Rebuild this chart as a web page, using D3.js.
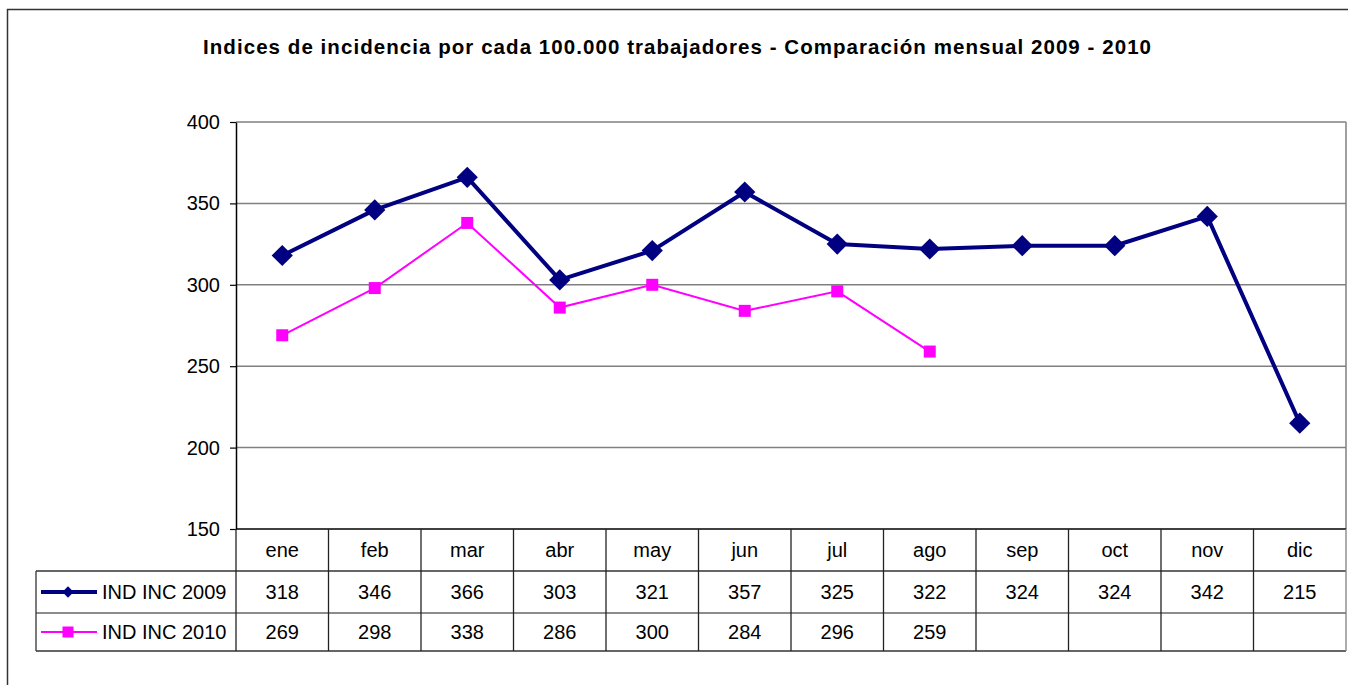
<!DOCTYPE html>
<html>
<head>
<meta charset="utf-8">
<script src="https://cdn.jsdelivr.net/npm/d3@7"></script>
<style>
  body { margin: 0; background: #fff; }
  svg { display: block; font-family: "Liberation Sans", Arial, sans-serif; }
</style>
</head>
<body>
<div id="chart"></div>
<script>
const months = ["ene", "feb", "mar", "abr", "may", "jun", "jul", "ago", "sep", "oct", "nov", "dic"];
const ind2009 = [318, 346, 366, 303, 321, 357, 325, 322, 324, 324, 342, 215];
const ind2010 = [269, 298, 338, 286, 300, 284, 296, 259];
const yTicks = [150, 200, 250, 300, 350, 400];
const seriesNames = ["IND INC 2009", "IND INC 2010"];
const titleText = "Indices de incidencia por cada 100.000 trabajadores - Comparación mensual 2009 - 2010";

const width = 1348, height = 685;
const plot = { left: 236, right: 1346, top: 122, bottom: 529 };
const rowH = [529, 571, 613, 651];   // table row boundaries
const legendLeft = 36;

const svg = d3.select("#chart").append("svg")
    .attr("width", width)
    .attr("height", height);

// outer frame
svg.append("rect")
    .attr("x", 7.5).attr("y", 9.5)
    .attr("width", 1350).attr("height", 700)
    .attr("fill", "#fff")
    .attr("stroke", "#333")
    .attr("stroke-width", 1.5);

// title
svg.append("text")
    .attr("x", 677)
    .attr("y", 54)
    .attr("text-anchor", "middle")
    .style("font-size", "20.5px")
    .style("font-weight", "bold")
    .attr("textLength", 948)
    .attr("lengthAdjust", "spacing")
    .text(titleText);

// scales
const x = d3.scaleBand().domain(months).range([plot.left, plot.right]).padding(0);
const y = d3.scaleLinear().domain([150, 400]).range([plot.bottom, plot.top]);
const cx = m => x(m) + x.bandwidth() / 2;

// gridlines
svg.append("g")
    .selectAll("line")
    .data(yTicks.filter(t => t !== 150))
    .join("line")
    .attr("x1", plot.left).attr("x2", plot.right)
    .attr("y1", d => y(d)).attr("y2", d => y(d))
    .attr("stroke", "#808080")
    .attr("stroke-width", 1.5);

// right edge of plot area
svg.append("line")
    .attr("x1", plot.right).attr("x2", plot.right)
    .attr("y1", plot.top).attr("y2", plot.bottom)
    .attr("stroke", "#808080")
    .attr("stroke-width", 1.5);

// y axis
const yAxis = svg.append("g")
    .attr("transform", `translate(${plot.left},0)`)
    .call(d3.axisLeft(y).tickValues(yTicks).tickSize(6).tickPadding(10).tickSizeOuter(0));
yAxis.select(".domain").attr("stroke", "#000").attr("stroke-width", 1.5);
yAxis.selectAll(".tick line").attr("stroke", "#000").attr("stroke-width", 1.2);
yAxis.selectAll(".tick text")
    .style("font-size", "20px")
    .style("font-family", "'Liberation Sans', Arial, sans-serif")
    .attr("fill", "#000");

// ---- data table ----
const table = svg.append("g");
// x-axis line / top of category row
table.append("line")
    .attr("x1", plot.left).attr("x2", plot.right)
    .attr("y1", rowH[0]).attr("y2", rowH[0])
    .attr("stroke", "#000").attr("stroke-width", 1.5);
// horizontal row lines
[rowH[1], rowH[2], rowH[3]].forEach((yy, i) => {
    table.append("line")
        .attr("x1", legendLeft).attr("x2", plot.right)
        .attr("y1", yy).attr("y2", yy)
        .attr("stroke", i === 1 ? "#666" : "#333")
        .attr("stroke-width", 1.3);
});
// vertical column lines
const colEdges = months.map(m => x(m)).concat([plot.right]);
table.selectAll(".col")
    .data(colEdges)
    .join("line")
    .attr("x1", d => d).attr("x2", d => d)
    .attr("y1", rowH[0]).attr("y2", rowH[3])
    .attr("stroke", (d, i) => i === colEdges.length - 1 ? "#808080" : "#222")
    .attr("stroke-width", 1.3);
// legend column left edge
table.append("line")
    .attr("x1", legendLeft).attr("x2", legendLeft)
    .attr("y1", rowH[1]).attr("y2", rowH[3])
    .attr("stroke", "#333").attr("stroke-width", 1.3);

// category labels
table.selectAll(".cat")
    .data(months)
    .join("text")
    .attr("x", d => cx(d))
    .attr("y", (rowH[0] + rowH[1]) / 2 + 7)
    .attr("text-anchor", "middle")
    .style("font-size", "20px")
    .text(d => d);

// value rows
[ind2009, ind2010].forEach((vals, r) => {
    table.selectAll(".v" + r)
        .data(vals)
        .join("text")
        .attr("x", (d, i) => cx(months[i]))
        .attr("y", (rowH[r + 1] + rowH[r + 2]) / 2 + 7)
        .attr("text-anchor", "middle")
        .style("font-size", "20px")
        .text(d => d);
});

// ---- series ----
const line = d3.line().x((d, i) => cx(months[i])).y(d => y(d));
const diamond = d3.symbol(d3.symbolSquare, 15 * 15);
const square = d3.symbol(d3.symbolSquare, 12 * 12);

svg.append("path")
    .datum(ind2010)
    .attr("d", line)
    .attr("fill", "none")
    .attr("stroke", "#FF00FF")
    .attr("stroke-width", 2);

svg.append("path")
    .datum(ind2009)
    .attr("d", line)
    .attr("fill", "none")
    .attr("stroke", "#000080")
    .attr("stroke-width", 4)
    .attr("stroke-linejoin", "round");

svg.append("g")
    .selectAll("path")
    .data(ind2010)
    .join("path")
    .attr("d", square)
    .attr("transform", (d, i) => `translate(${cx(months[i])},${y(d)})`)
    .attr("fill", "#FF00FF");

svg.append("g")
    .selectAll("path")
    .data(ind2009)
    .join("path")
    .attr("d", diamond)
    .attr("transform", (d, i) => `translate(${cx(months[i])},${y(d)}) rotate(45)`)
    .attr("fill", "#000080");

// ---- legend keys in table ----
const legendRows = [
    { name: seriesNames[0], color: "#000080", w: 4, sym: d3.symbol(d3.symbolSquare, 8 * 8), rot: 45 },
    { name: seriesNames[1], color: "#FF00FF", w: 2, sym: d3.symbol(d3.symbolSquare, 11 * 11), rot: 0 }
];
legendRows.forEach((s, r) => {
    const yy = (rowH[r + 1] + rowH[r + 2]) / 2;
    const g = svg.append("g");
    g.append("line")
        .attr("x1", 41).attr("x2", 97)
        .attr("y1", yy).attr("y2", yy)
        .attr("stroke", s.color).attr("stroke-width", s.w);
    g.append("path")
        .attr("d", s.sym)
        .attr("transform", `translate(68,${yy}) rotate(${s.rot})`)
        .attr("fill", s.color);
    g.append("text")
        .attr("x", 102)
        .attr("y", yy + 7)
        .style("font-size", "20px")
        .text(s.name);
});
</script>
</body>
</html>
